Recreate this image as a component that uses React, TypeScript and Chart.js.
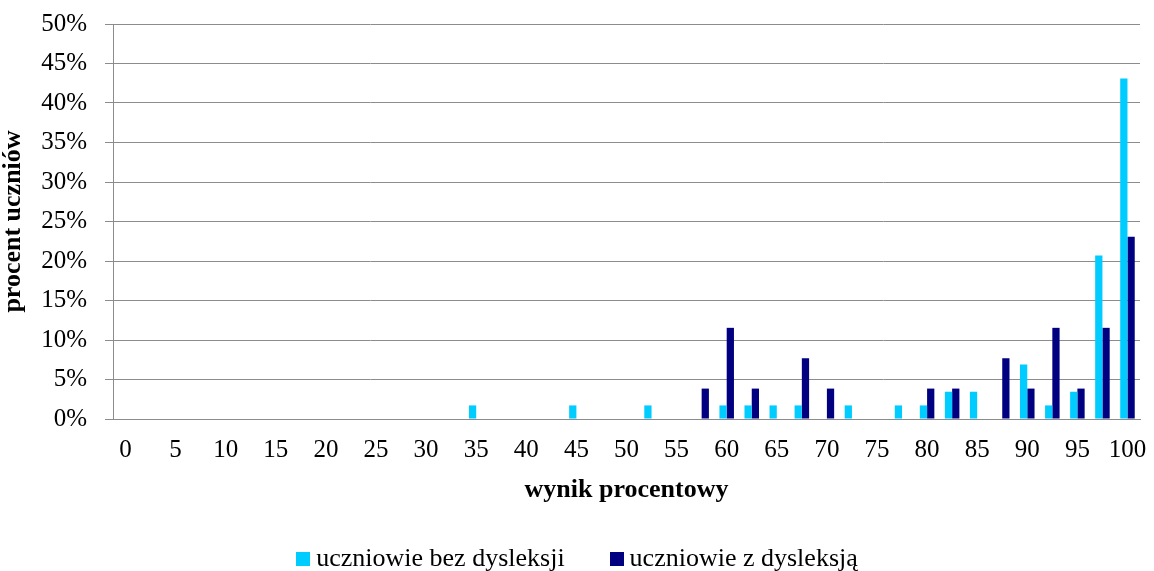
import React, { useEffect, useRef } from "react";
import { Chart, registerables } from "chart.js";

Chart.register(...registerables);

const categories = [
  "0", "2,5", "5", "7,5", "10", "12,5", "15", "17,5", "20", "22,5",
  "25", "27,5", "30", "32,5", "35", "37,5", "40", "42,5", "45", "47,5",
  "50", "52,5", "55", "57,5", "60", "62,5", "65", "67,5", "70", "72,5",
  "75", "77,5", "80", "82,5", "85", "87,5", "90", "92,5", "95", "97,5",
  "100",
];

const bezDysleksji = [
  0, 0, 0, 0, 0, 0, 0, 0, 0, 0,
  0, 0, 0, 0, 1.72, 0, 0, 0, 1.72, 0,
  0, 1.72, 0, 0, 1.72, 1.72, 1.72, 1.72, 0, 1.72,
  0, 1.72, 1.72, 3.45, 3.45, 0, 6.9, 1.72, 3.45, 20.69,
  43.1,
];

const zDysleksja = [
  0, 0, 0, 0, 0, 0, 0, 0, 0, 0,
  0, 0, 0, 0, 0, 0, 0, 0, 0, 0,
  0, 0, 0, 3.85, 11.54, 3.85, 0, 7.69, 3.85, 0,
  0, 0, 3.85, 3.85, 0, 7.69, 3.85, 11.54, 3.85, 11.54,
  23.08,
];

const seriesNames = ["uczniowie bez dysleksji", "uczniowie z dysleksją"];
const seriesColors = ["#00CCFF", "#000080"];
const yMin = 0;
const yMax = 50;
const yStep = 5;

const FONT = "'Liberation Serif', 'Times New Roman', serif";
const GRID = "#8c8c8c";

// Legend drawn at the bottom, centred on the canvas (square, text, gap)
const bottomLegend = {
  id: "bottomLegend",
  afterDraw(chart: any) {
    const ctx = chart.ctx as CanvasRenderingContext2D;
    const box = 14;
    const gapText = 6;
    const gapItem = 45;
    const baseline = 566;
    ctx.save();
    ctx.font = `26px ${FONT}`;
    ctx.textBaseline = "alphabetic";
    ctx.textAlign = "left";
    const items = chart.data.datasets.map((d: any) => ({
      text: d.label as string,
      color: d.backgroundColor as string,
      w: ctx.measureText(d.label).width,
    }));
    const total =
      items.reduce((s: number, it: any) => s + box + gapText + it.w, 0) +
      gapItem * (items.length - 1);
    let x = (chart.width - total) / 2;
    items.forEach((it: any) => {
      ctx.fillStyle = it.color;
      ctx.fillRect(Math.round(x), baseline - box, box, box);
      ctx.fillStyle = "#000";
      ctx.fillText(it.text, x + box + gapText, baseline);
      x += box + gapText + it.w + gapItem;
    });
    ctx.restore();
  },
};

export default function App() {
  const ref = useRef<HTMLCanvasElement | null>(null);

  useEffect(() => {
    if (!ref.current) return;
    Chart.defaults.font.family = FONT;
    const chart = new Chart(ref.current, {
      type: "bar",
      data: {
        labels: categories,
        datasets: [
          {
            label: seriesNames[0],
            data: bezDysleksji,
            backgroundColor: seriesColors[0],
            borderWidth: 0,
            categoryPercentage: 0.58,
            barPercentage: 1,
          },
          {
            label: seriesNames[1],
            data: zDysleksja,
            backgroundColor: seriesColors[1],
            borderWidth: 0,
            categoryPercentage: 0.58,
            barPercentage: 1,
          },
        ],
      },
      plugins: [bottomLegend],
      options: {
        responsive: false,
        animation: false,
        layout: { padding: { top: 24, right: 14, left: 0, bottom: 64 } },
        plugins: {
          legend: { display: false },
          tooltip: { enabled: false },
        },
        scales: {
          x: {
            offset: true,
            grid: { display: false, drawTicks: false },
            border: { display: true, color: GRID, width: 1 },
            ticks: {
              autoSkip: false,
              maxRotation: 0,
              minRotation: 0,
              padding: 16,
              color: "#000",
              font: { family: FONT, size: 25 },
              callback: (_v: any, i: number) => (i % 2 === 0 ? categories[i] : ""),
            },
            title: {
              display: true,
              text: "wynik procentowy",
              color: "#000",
              font: { family: FONT, size: 26, weight: "bold" },
              padding: { top: 0, bottom: 1 },
            },
            afterFit: (s: any) => {
              s.height = 88;
              s.paddingLeft = 6;
              s.paddingRight = 6;
            },
          },
          y: {
            min: yMin,
            max: yMax,
            ticks: {
              stepSize: yStep,
              padding: 18,
              color: "#000",
              font: { family: FONT, size: 25 },
              callback: (v: any) => `${v}%`,
            },
            grid: { color: GRID, tickLength: 8, drawTicks: true, lineWidth: 1 },
            border: { display: true, color: GRID, width: 1 },
            title: {
              display: true,
              text: "procent uczniów",
              color: "#000",
              font: { family: FONT, size: 26, weight: "bold", lineHeight: 1 },
              padding: { top: 0, bottom: 0 },
            },
            afterFit: (s: any) => {
              s.width = 113;
              s.paddingTop = 12;
              s.paddingBottom = 12;
            },
          },
        },
      } as any,
    });
    return () => chart.destroy();
  }, []);

  return (
    <div style={{ position: "absolute", left: 0, top: 0, width: 1154, height: 571, background: "#fff" }}>
      <canvas ref={ref} width={1154} height={571} style={{ display: "block" }} />
    </div>
  );
}
